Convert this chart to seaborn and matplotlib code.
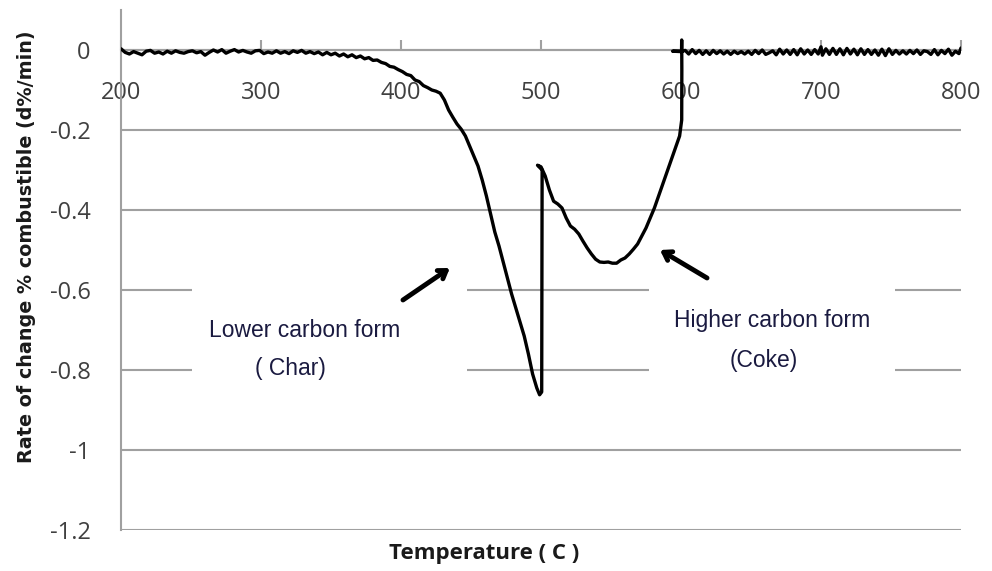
import matplotlib
matplotlib.use("Agg")
import matplotlib.pyplot as plt
import seaborn as sns
import pandas as pd
from matplotlib.patches import Rectangle

# ---------------- data ----------------
temperature = [
    200, 203, 206, 209, 212, 215, 218, 221, 224, 227, 230, 233, 236, 239, 242, 245, 248, 251, 254, 257,
    260, 263, 266, 269, 272, 275, 278, 281, 284, 287, 290, 293, 296, 299, 302, 305, 308, 311, 314, 317,
    320, 323, 326, 329, 332, 335, 338, 341, 344, 347, 350, 353, 356, 359, 362, 365, 368, 371, 374, 377,
    380, 383, 386, 389, 392, 395, 398, 401, 404, 407, 410, 413, 416, 419, 422, 425, 428, 431, 434, 437,
    440, 443, 446, 449, 452, 455, 458, 461, 464, 467, 470, 473, 476, 479, 482, 485, 488, 491, 494, 497,
    499, 500.5, 500.8, 497.5, 500, 503, 506, 509, 512, 515, 518, 521, 524, 527, 530, 533, 536, 539, 542, 545,
    548, 551, 554, 557, 560, 563, 566, 569, 572, 575, 578, 581, 584, 587, 590, 593, 596, 599, 600.5, 600.6,
    600.5, 600.4, 594, 600, 603, 605.5, 608, 610.5, 613, 615.5, 618, 620.5, 623, 625.5, 628, 630.5, 633, 635.5,
    638, 640.5, 643, 645.5, 648, 650.5, 653, 655.5, 658, 660.5, 663, 665.5, 668, 670.5, 673, 675.5, 678, 680.5,
    683, 685.5, 688, 690.5, 693, 695.5, 698, 700, 701, 703.5, 706, 708.5, 711, 713.5, 716, 718.5, 721, 723.5,
    726, 728.5, 731, 733.5, 736, 738.5, 741, 743.5, 746, 748.5, 751, 753.5, 756, 758.5, 761, 763.5, 766, 768.5,
    771, 773.5, 776, 778.5, 781, 783.5, 786, 788.5, 791, 793.5, 796, 798.5, 800,
]
rate = [
    0.003, -0.006, -0.010, -0.004, -0.008, -0.012, -0.003, -0.001, -0.008, -0.005, -0.010, -0.003, -0.008, -0.002, -0.006, -0.008, -0.004, -0.002, -0.007, -0.004,
    -0.013, -0.006, 0.000, -0.005, 0.001, -0.008, -0.003, 0.001, -0.005, -0.001, -0.005, -0.008, -0.002, -0.001, -0.009, -0.005, -0.008, -0.002, -0.008, -0.004,
    -0.009, -0.002, -0.006, -0.001, -0.008, -0.004, -0.009, -0.005, -0.012, -0.006, -0.012, -0.008, -0.015, -0.010, -0.017, -0.012, -0.019, -0.015, -0.022, -0.019,
    -0.026, -0.025, -0.031, -0.034, -0.041, -0.043, -0.049, -0.054, -0.061, -0.064, -0.075, -0.079, -0.089, -0.094, -0.100, -0.103, -0.108, -0.125, -0.150, -0.168,
    -0.185, -0.198, -0.215, -0.240, -0.265, -0.290, -0.325, -0.365, -0.410, -0.455, -0.490, -0.530, -0.570, -0.610, -0.645, -0.680, -0.715, -0.760, -0.810, -0.845,
    -0.862, -0.855, -0.300, -0.288, -0.292, -0.315, -0.350, -0.378, -0.385, -0.395, -0.420, -0.440, -0.448, -0.460, -0.478, -0.495, -0.510, -0.523, -0.530, -0.531,
    -0.530, -0.533, -0.533, -0.525, -0.520, -0.510, -0.498, -0.485, -0.465, -0.445, -0.420, -0.395, -0.365, -0.335, -0.305, -0.275, -0.245, -0.215, -0.175, -0.050,
    0.025, -0.003, -0.003, -0.004, -0.001, -0.010, 0.001, -0.009, -0.001, -0.011, -0.002, -0.011, -0.001, -0.009, -0.002, -0.010, -0.003, -0.011,
    -0.003, -0.009, -0.004, -0.010, -0.003, -0.011, -0.001, -0.009, 0.000, -0.011, -0.007, -0.002, -0.012, 0.002, -0.010, 0.000, -0.011, 0.001,
    -0.012, 0.003, -0.010, 0.000, -0.011, 0.001, -0.010, 0.008, -0.013, 0.003, -0.011, 0.004, -0.011, 0.003, -0.012, 0.004, -0.010, 0.002,
    -0.012, 0.003, -0.011, 0.001, -0.011, 0.000, -0.013, 0.002, -0.014, 0.003, -0.011, -0.001, -0.010, -0.002, -0.010, -0.001, -0.009, 0.000,
    -0.011, -0.002, -0.004, -0.011, 0.001, -0.012, -0.001, -0.009, 0.002, -0.013, -0.003, -0.009, 0.005,
]
x_ticks = [200, 300, 400, 500, 600, 700, 800]
x_tick_labels = ["200", "300", "400", "500", "600", "700", "800"]
y_ticks = [0, -0.2, -0.4, -0.6, -0.8, -1.0, -1.2]
y_tick_labels = ["0", "-0.2", "-0.4", "-0.6", "-0.8", "-1", "-1.2"]
x_label = "Temperature ( C )"
y_label = "Rate of change % combustible (d%/min)"
annot_low = ["Lower carbon form", "( Char)"]
annot_high = ["Higher carbon form", "(Coke)"]

df = pd.DataFrame({"T": temperature, "rate": rate})

# ---------------- figure ----------------
sns.set_theme(style="white")
plt.rcParams["font.family"] = ["Open Sans", "DejaVu Sans"]

W, H = 992, 571
fig = plt.figure(figsize=(W / 100, H / 100), dpi=100)
ax = fig.add_axes([121 / W, 1 - 530 / H, 840 / W, 520 / H])

GRID = "#a0a0a0"
TXT = "#404040"

sns.lineplot(data=df, x="T", y="rate", sort=False, estimator=None,
             color="black", lw=2.4, ax=ax, zorder=5)

ax.set_xlim(200, 800)
ax.set_ylim(-1.2, 0.1)

ax.set_xticks(x_ticks)
ax.set_xticklabels(x_tick_labels)
ax.set_yticks(y_ticks)
ax.set_yticklabels(y_tick_labels)

for s in ["top", "right"]:
    ax.spines[s].set_visible(False)
ax.spines["left"].set_color(GRID)
ax.spines["left"].set_linewidth(1.5)
ax.spines["bottom"].set_position(("data", 0))
ax.spines["bottom"].set_color(GRID)
ax.spines["bottom"].set_linewidth(1.5)
ax.spines["bottom"].set_zorder(1)

ax.tick_params(axis="x", direction="in", length=7, width=1.5, color=GRID,
               labelsize=17, labelcolor=TXT, pad=22, bottom=True)
ax.tick_params(axis="y", length=0, labelsize=17, labelcolor=TXT, pad=22)

ax.yaxis.grid(True, color=GRID, lw=1.5)
ax.xaxis.grid(False)
ax.set_axisbelow(True)

# white label boxes that interrupt the gridlines
ax.add_patch(Rectangle((250.7, -0.85), 447.1 - 250.7, 0.30, facecolor="white",
                       edgecolor="none", zorder=2))
ax.add_patch(Rectangle((577.1, -0.85), 752.9 - 577.1, 0.30, facecolor="white",
                       edgecolor="none", zorder=2))

ax.set_xlabel("")
ax.set_ylabel("")

ANN = "#1a1a40"
for (tx, ty, s) in [(331.4, -0.70, annot_low[0]), (320.7, -0.795, annot_low[1]),
                    (665, -0.675, annot_high[0]), (659, -0.775, annot_high[1])]:
    ax.text(tx, ty, s, ha="center", va="center", fontsize=16.5,
            color=ANN, family=["Liberation Sans"], zorder=6)

arrow_kw = dict(arrowstyle="->,head_length=0.45,head_width=0.3", lw=3.5,
                color="black", shrinkA=0, shrinkB=0)
ax.annotate("", xy=(434.9, -0.545), xytext=(401.4, -0.625), arrowprops=arrow_kw, zorder=7)
ax.annotate("", xy=(585.0, -0.50), xytext=(618.6, -0.57), arrowprops=arrow_kw, zorder=7)

fig.text(484.5 / W, 1 - 553 / H, x_label, ha="center", va="center",
         fontsize=16, fontweight="bold", color="#1a1a1a")
fig.text(27 / W, 1 - 247 / H, y_label, ha="center", va="center", rotation=90,
         fontsize=13.8, fontweight="bold", color="#1a1a1a", family=["DejaVu Sans"])

fig.savefig("out.png", dpi=100)
